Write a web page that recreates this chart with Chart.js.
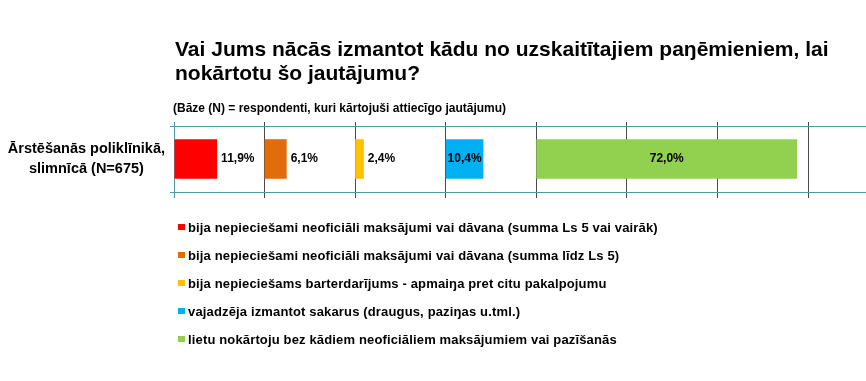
<!DOCTYPE html>
<html><head><meta charset="utf-8">
<script src="https://cdn.jsdelivr.net/npm/chart.js@4/dist/chart.umd.min.js"></script>
<style>html,body{margin:0;padding:0;background:#fff;overflow:hidden}#wrap{position:relative;width:866px;height:381px}</style>
</head><body><div id="wrap"><canvas id="c" width="866" height="381"></canvas></div>
<script>
// ---- data ----
const categories = [["Ārstēšanās poliklīnikā,", "slimnīcā (N=675)"]];
const seriesNames = [
  "bija nepieciešami neoficiāli maksājumi vai dāvana (summa Ls 5 vai vairāk)",
  "bija nepieciešami neoficiāli maksājumi vai dāvana (summa līdz Ls 5)",
  "bija nepieciešams barterdarījums - apmaiŋa pret citu pakalpojumu",
  "vajadzēja izmantot sakarus (draugus, paziŋas u.tml.)",
  "lietu nokārtoju bez kādiem neoficiāliem maksājumiem vai pazīšanās"
];
const seriesValues = [11.9, 6.1, 2.4, 10.4, 72.0];
const slotStarts = [0, 25, 50, 75, 100];
const xTicks = [0, 25, 50, 75, 100, 125, 150, 175];
const titleLines = ["Vai Jums nācās izmantot kādu no uzskaitītajiem paŋēmieniem, lai", "nokārtotu šo jautājumu?"];
const subtitleText = "(Bāze (N) = respondenti, kuri kārtojuši attiecīgo jautājumu)";

// ---- styles ----
const seriesColors = ['#FF0000', '#E36C0A', '#FFC000', '#00B0F0', '#92D050'];
const labelInside = [false, false, false, true, true];
const TEAL = '#4E9BA3';
const GRID = '#4A4A4A';
const FONT = '"Liberation Sans", Arial, sans-serif';

const textPlugin = {
  id: 'texts',
  afterDatasetsDraw(chart) {
    const ctx = chart.ctx;
    ctx.save();
    ctx.font = 'bold 12px ' + FONT;
    ctx.fillStyle = '#000';
    ctx.textBaseline = 'middle';
    seriesValues.forEach((v, i) => {
      const bar = chart.getDatasetMeta(i).data[0];
      const txt = v.toFixed(1).replace('.', ',') + '%';
      if (labelInside[i]) {
        ctx.textAlign = 'center';
        ctx.fillText(txt, (bar.x + bar.base) / 2, bar.y);
      } else {
        ctx.textAlign = 'left';
        ctx.fillText(txt, bar.x + 4, bar.y);
      }
    });
    ctx.restore();
  },
  afterDraw(chart) {
    const ctx = chart.ctx;
    ctx.save();
    ctx.fillStyle = '#000';
    ctx.textAlign = 'left';
    ctx.textBaseline = 'alphabetic';
    ctx.font = 'bold 21px ' + FONT;
    titleLines.forEach((t, i) => ctx.fillText(t, 175, 56 + i * 24));
    ctx.font = 'bold 12px ' + FONT;
    ctx.fillText(subtitleText, 173, 112);
    ctx.font = 'bold 13px ' + FONT;
    if ('letterSpacing' in ctx) ctx.letterSpacing = '0.15px';
    ctx.textBaseline = 'middle';
    chart.data.datasets.forEach((ds, i) => {
      const cy = 227 + i * 28;
      ctx.fillStyle = ds.backgroundColor;
      ctx.fillRect(178, cy - 3, 7, 6);
      ctx.fillStyle = '#000';
      ctx.fillText(ds.label, 188, cy + 1);
    });
    ctx.restore();
  }
};

const setTicks = s => { s.ticks = xTicks.map(v => ({ value: v })); };
const gridColor = c => (c.tick && c.tick.value === 0) ? TEAL : GRID;

new Chart(document.getElementById('c'), {
  type: 'bar',
  data: {
    labels: categories,
    datasets: seriesValues.map((v, i) => ({
      label: seriesNames[i],
      data: [[slotStarts[i], slotStarts[i] + v]],
      backgroundColor: seriesColors[i],
      borderWidth: 0,
      barPercentage: 0.6,
      categoryPercentage: 1,
      grouped: false
    }))
  },
  options: {
    indexAxis: 'y',
    responsive: false,
    animation: false,
    layout: { padding: { top: 122, bottom: 183, left: 0, right: 0 } },
    plugins: { legend: { display: false }, tooltip: { enabled: false }, title: { display: false } },
    scales: {
      x: {
        type: 'linear', position: 'bottom', min: 0, max: 191,
        afterBuildTicks: setTicks,
        ticks: { display: false },
        grid: { color: gridColor, tickLength: 6, lineWidth: 1 },
        border: { display: true, color: TEAL },
        afterFit: s => { s.height = 6; }
      },
      xTop: {
        type: 'linear', axis: 'x', position: 'top', min: 0, max: 191,
        afterBuildTicks: setTicks,
        ticks: { display: false },
        grid: { drawOnChartArea: false, color: gridColor, tickLength: 4, lineWidth: 1 },
        border: { display: false },
        afterFit: s => { s.height = 4; }
      },
      y: {
        type: 'category', offset: true,
        grid: { offset: true, color: TEAL, tickLength: 4, lineWidth: 1 },
        border: { display: false },
        ticks: { font: { family: FONT, size: 14.5, weight: 'bold', lineHeight: 1.32 }, color: '#000', crossAlign: 'center', padding: 5 },
        afterFit: s => { s.width = 174; }
      }
    }
  },
  plugins: [textPlugin]
});
</script></body></html>
